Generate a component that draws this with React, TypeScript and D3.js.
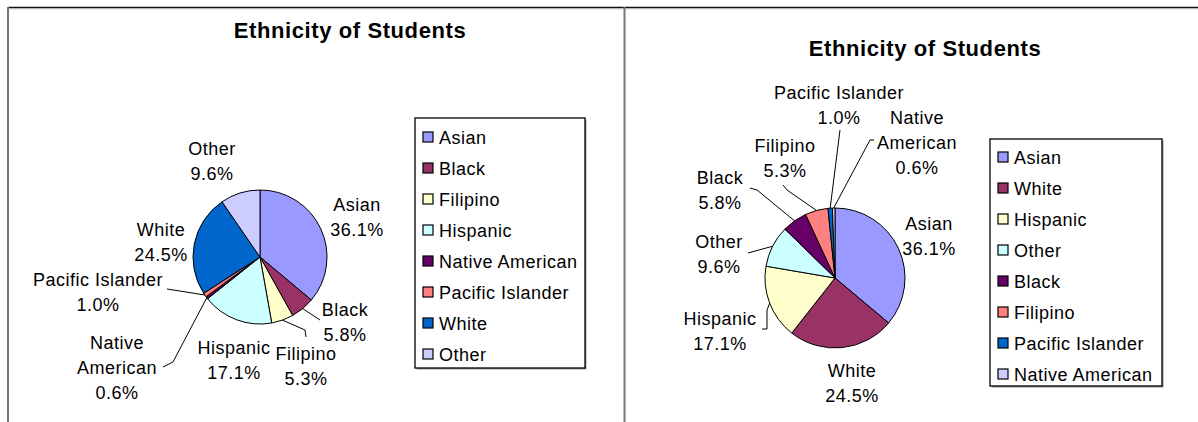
import React from "react";
import * as d3 from "d3";

const categories = ["Asian", "Black", "Filipino", "Hispanic", "Native American", "Pacific Islander", "White", "Other"];
const percents = [36.1, 5.8, 5.3, 17.1, 0.6, 1.0, 24.5, 9.6];
const sortedOrder = ["Asian", "White", "Hispanic", "Other", "Black", "Filipino", "Pacific Islander", "Native American"];
const palette = ["#9999FF", "#993366", "#FFFFCC", "#CCFFFF", "#660066", "#FF8080", "#0066CC", "#CCCCFF"];
const chartTitle = "Ethnicity of Students";

type Pt = [number, number];
interface LabelLayout { x: number; y: number; lines?: string[]; leader?: Pt[] }
interface ChartLayout {
  cx: number; cy: number; r: number;
  titleX: number; titleY: number;
  legend: { x: number; y: number; w: number; h: number; first: number; step: number };
  labels: Record<string, LabelLayout>;
}

const leftLayout: ChartLayout = {
  cx: 260, cy: 257, r: 67,
  titleX: 350, titleY: 38,
  legend: { x: 415, y: 118, w: 170, h: 250, first: 137, step: 31 },
  labels: {
    "Asian": { x: 357, y: 204 },
    "Black": { x: 345, y: 309, leader: [[320, 320]] },
    "Filipino": { x: 306, y: 353, leader: [[305, 330], [306, 337]] },
    "Hispanic": { x: 234, y: 347 },
    "Native American": { x: 117, y: 342, lines: ["Native", "American"], leader: [[173, 362], [163, 367]] },
    "Pacific Islander": { x: 98, y: 279, leader: [[167, 289]] },
    "White": { x: 161, y: 229 },
    "Other": { x: 212, y: 148 },
  },
};

const rightLayout: ChartLayout = {
  cx: 835, cy: 278, r: 70,
  titleX: 925, titleY: 56,
  legend: { x: 990, y: 139, w: 172, h: 247, first: 157, step: 31 },
  labels: {
    "Asian": { x: 929, y: 223 },
    "White": { x: 852, y: 370 },
    "Hispanic": { x: 720, y: 318, leader: [[767, 310], [767, 329], [762, 329]] },
    "Other": { x: 719, y: 241, leader: [[748, 253]] },
    "Black": { x: 720, y: 177, leader: [[757, 190], [750, 188]] },
    "Filipino": { x: 785, y: 145, leader: [[787, 190], [783, 185]] },
    "Pacific Islander": { x: 839, y: 92, leader: [[840, 130]] },
    "Native American": { x: 917, y: 117, lines: ["Native", "American"], leader: [[870, 140], [874, 140]] },
  },
};

const FONT = "'Liberation Sans', Arial, sans-serif";
const LINE = 25;

function PieChart({ order, layout }: { order: string[]; layout: ChartLayout }) {
  const values = order.map((c) => percents[categories.indexOf(c)]);
  const color = d3.scaleOrdinal<string, string>().domain(order).range(palette);
  const pie = d3.pie<number>().sort(null).value((d) => d);
  const arcs = pie(values);
  const arc = d3.arc<d3.PieArcDatum<number>>().innerRadius(0).outerRadius(layout.r);
  const edge = d3.arc<d3.PieArcDatum<number>>().innerRadius(layout.r).outerRadius(layout.r);
  const lineGen = d3.line();
  const { legend } = layout;
  return (
    <g>
      <text x={layout.titleX} y={layout.titleY} textAnchor="middle" fontFamily={FONT} fontWeight="bold" fontSize={22} letterSpacing={0.6} fill="#000">{chartTitle}</text>
      <g transform={`translate(${layout.cx},${layout.cy})`}>
        {arcs.map((a, i) => (
          <path key={order[i]} d={arc(a) || ""} fill={color(order[i])} stroke="#000" strokeWidth={1} />
        ))}
      </g>
      {arcs.map((a, i) => {
        const cat = order[i];
        const lab = layout.labels[cat];
        const lines = lab.lines ?? [cat];
        const allLines = [...lines, `${values[i].toFixed(1)}%`];
        const c = edge.centroid(a);
        const start: Pt = [layout.cx + c[0], layout.cy + c[1]];
        return (
          <g key={cat}>
            {lab.leader && (
              <path d={lineGen([start, ...lab.leader]) || ""} fill="none" stroke="#000" strokeWidth={1} />
            )}
            {allLines.map((t, j) => (
              <text key={j} x={lab.x} y={lab.y + j * LINE + 6.5} textAnchor="middle" fontFamily={FONT} fontSize={18} letterSpacing={0.5} fill="#000">{t}</text>
            ))}
          </g>
        );
      })}
      <rect x={legend.x + 1.5} y={legend.y + 1.5} width={legend.w} height={legend.h} fill="#999" />
      <rect x={legend.x} y={legend.y} width={legend.w} height={legend.h} fill="#fff" stroke="#000" strokeWidth={1.3} />
      {order.map((cat, i) => {
        const y = legend.first + i * legend.step;
        return (
          <g key={cat}>
            <rect x={legend.x + 8} y={y - 5} width={10} height={10} fill={color(cat)} stroke="#000" strokeWidth={1.2} />
            <text x={legend.x + 24} y={y + 6.5} fontFamily={FONT} fontSize={18} letterSpacing={0.5} fill="#000">{cat}</text>
          </g>
        );
      })}
    </g>
  );
}

export default function App() {
  return (
    <svg width={1198} height={422} style={{ position: "absolute", left: 0, top: 0, background: "#fff" }}>
      <rect x={0} y={0} width={1198} height={422} fill="#fff" />
      <line x1={8} x2={1198} y1={9} y2={9} stroke="#dcdcdc" strokeWidth={1} />
      <line x1={8} x2={1198} y1={7.5} y2={7.5} stroke="#111" strokeWidth={1.5} />
      <line x1={8} x2={8} y1={7} y2={422} stroke="#777" strokeWidth={2} />
      <line x1={624.5} x2={624.5} y1={7} y2={422} stroke="#777" strokeWidth={2} />
      <PieChart order={categories} layout={leftLayout} />
      <PieChart order={sortedOrder} layout={rightLayout} />
    </svg>
  );
}
